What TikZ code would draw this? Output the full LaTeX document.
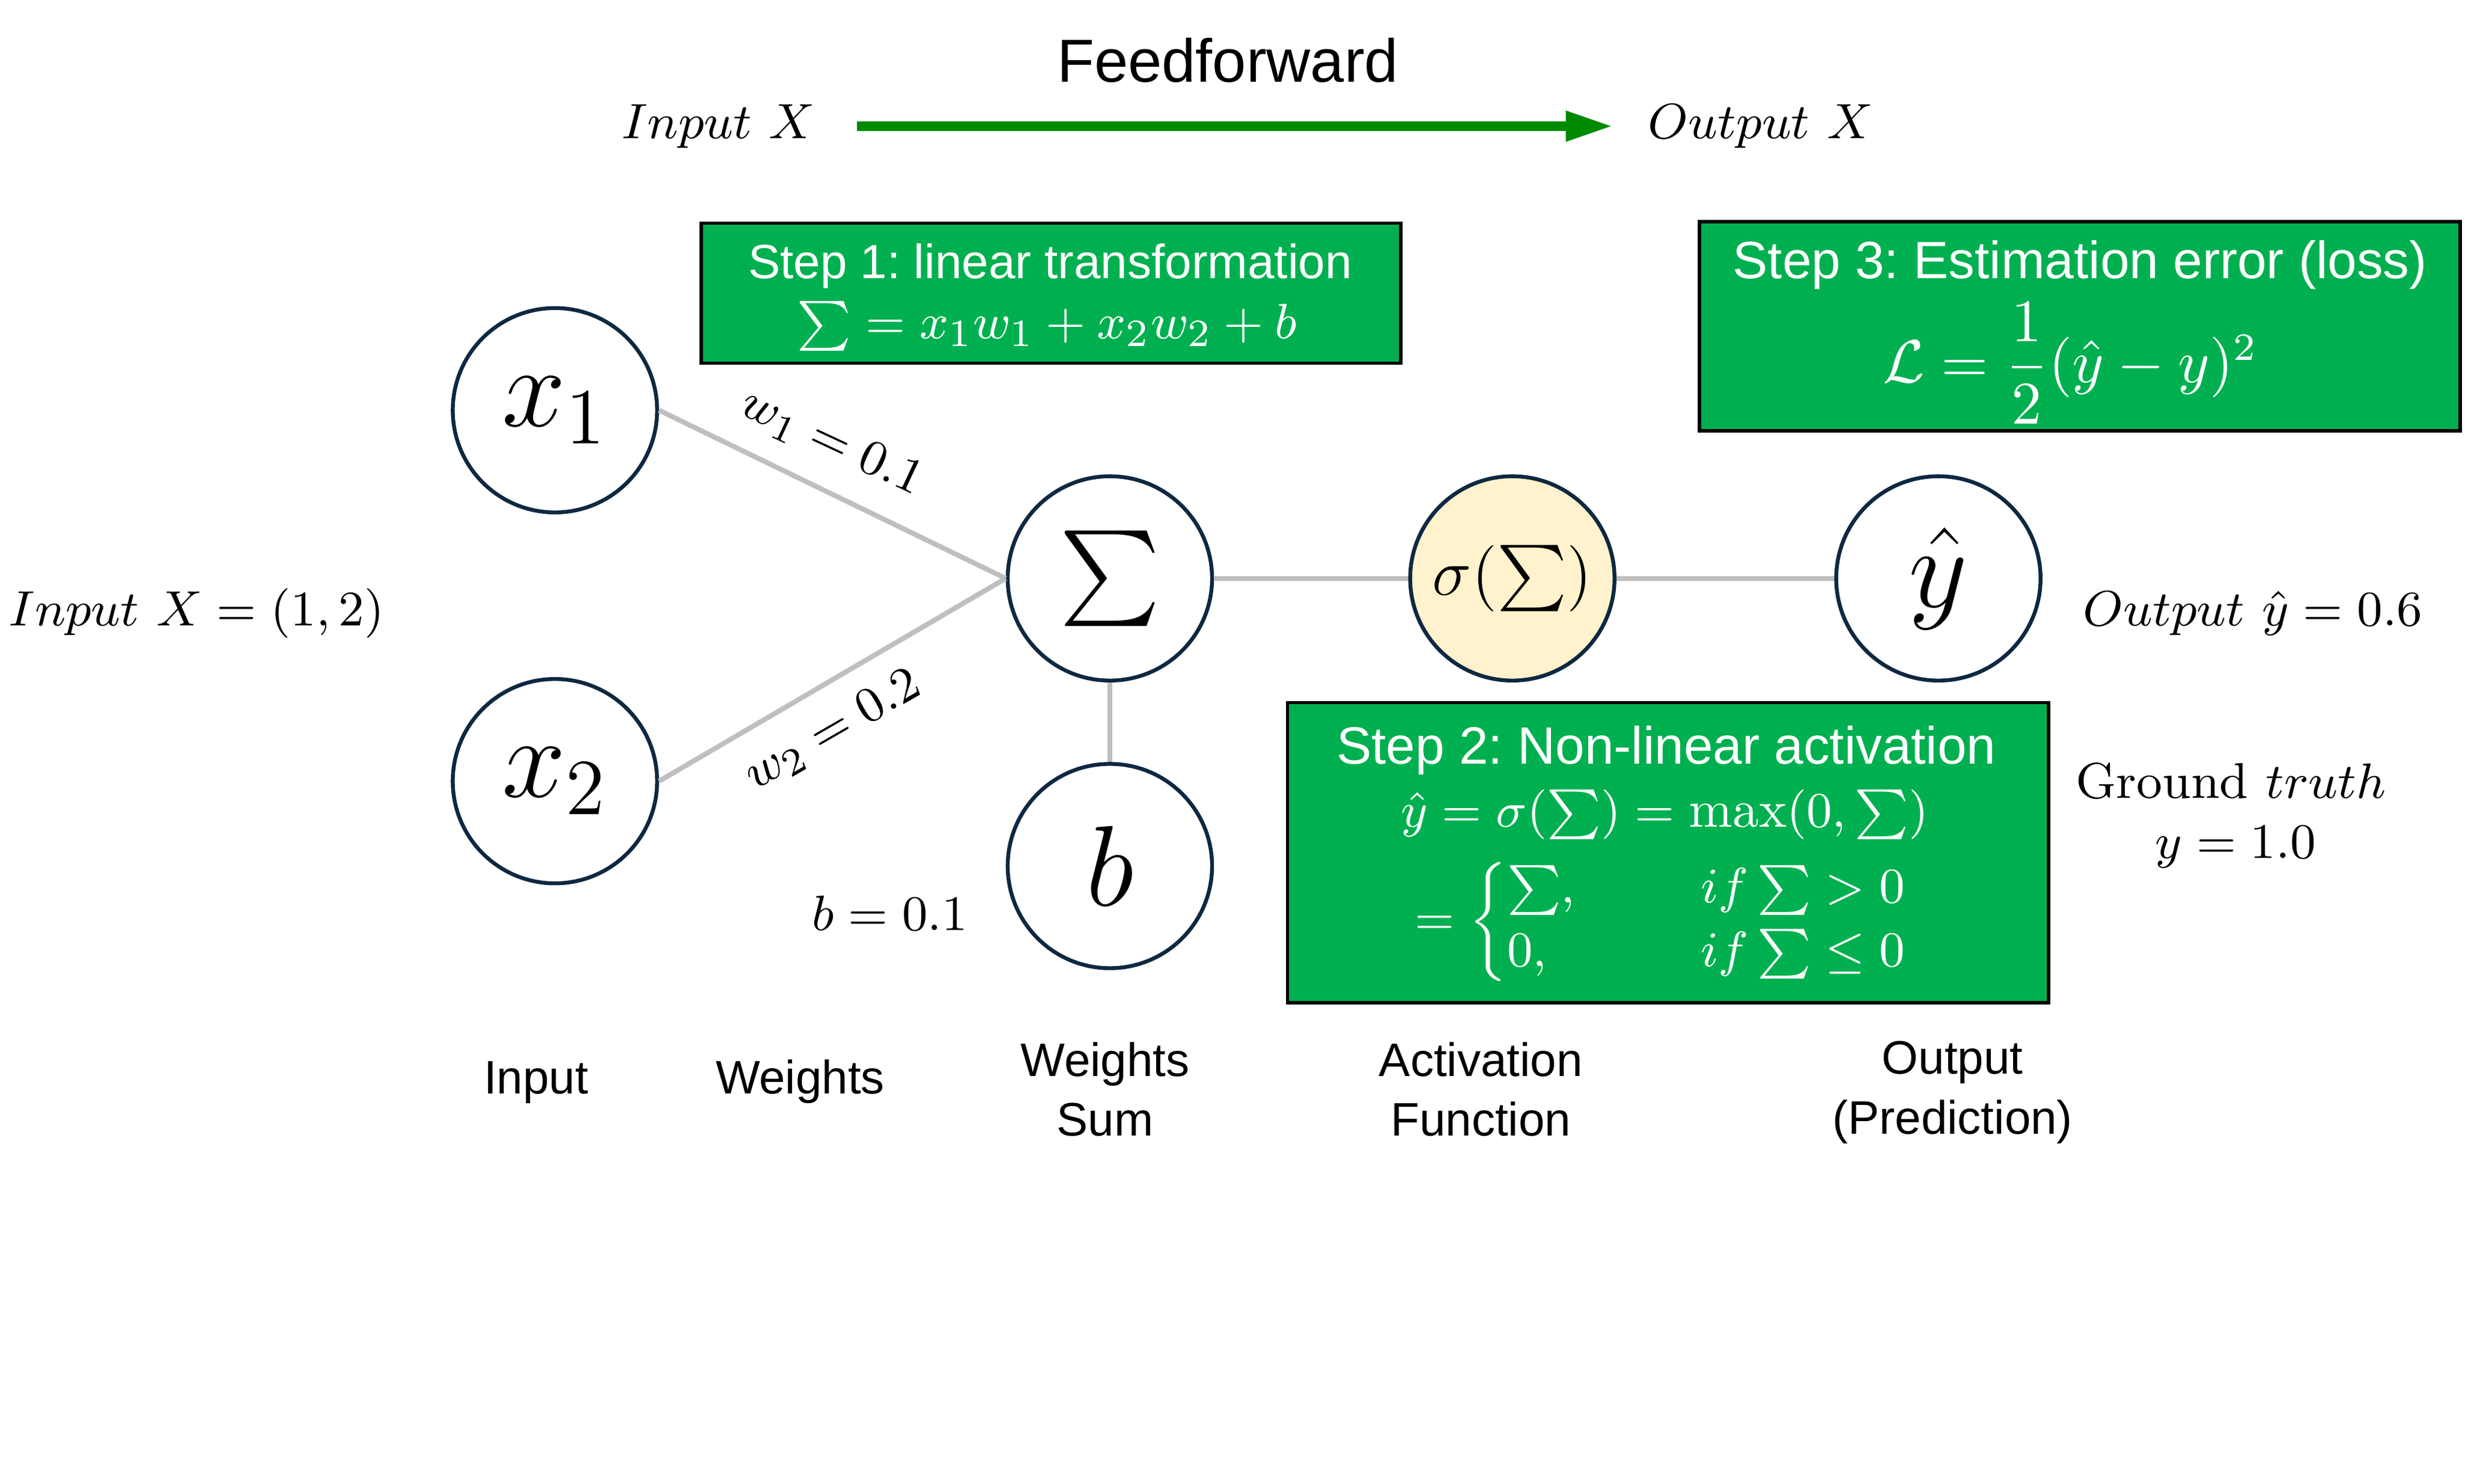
\documentclass[tikz,border=0pt]{standalone}
\usepackage{amsmath}
\usepackage{fontspec}
\newfontfamily\sansfont{Liberation Sans}
\usepackage{tikz}
\usetikzlibrary{arrows.meta}

\definecolor{stepgreen}{HTML}{00B050}
\definecolor{arrowgreen}{HTML}{008A00}
\definecolor{actyellow}{HTML}{FFF2CC}
\definecolor{ringline}{HTML}{0E2841}
\definecolor{edgegray}{HTML}{BFBFBF}

\begin{document}
\frenchspacing
\begin{tikzpicture}[
  neuron/.style={draw=ringline,line width=0.7pt,fill=white,circle,minimum size=1.3cm,inner sep=0pt,font=\fontsize{21}{24}\selectfont},
  stepbox/.style={draw=black,line width=0.6pt,fill=stepgreen,inner sep=0pt},
  steptitle/.style={anchor=base,text=white,font=\sansfont\fontsize{9.5}{11}\selectfont},
  stepmath/.style={text=white,font=\fontsize{9.5}{11.5}\selectfont},
  mathlbl/.style={anchor=base,font=\fontsize{9.1}{11}\selectfont},
  caption/.style={align=center,font=\sansfont\fontsize{8.5}{10.8}\selectfont},
  edge/.style={draw=edgegray,line width=0.9pt}
]
\useasboundingbox (0,0) rectangle (15.68,-9.44);

\draw (7.81,-0.52) node[anchor=base,font=\sansfont\fontsize{11}{13}\selectfont] (title) {Feedforward};
\draw (4.57,-0.88) node[mathlbl] (inX) {$Input\ X$};
\draw (11.20,-0.88) node[mathlbl] (outX) {$Output\ X$};

\draw (6.685,-1.865) node[stepbox,minimum width=4.45cm,minimum height=0.89cm] (step1) {};
	\draw (6.68,-1.77) node[steptitle,font=\sansfont\fontsize{8.7}{11}\selectfont] (step1Title) {Step 1: linear transformation};
	\draw (6.66,-2.155) node[stepmath,anchor=base] (step1Eq) {$\sum = x_1w_1 + x_2w_2 + b$};
\draw (13.23,-2.075) node[stepbox,minimum width=4.84cm,minimum height=1.33cm] (step3) {};
	\draw (13.23,-1.77) node[steptitle] (step3Title) {Step 3: Estimation error (loss)};
	\draw (13.17,-2.31) node[stepmath,font=\fontsize{10.5}{12.5}\selectfont] (step3Eq) {$\mathcal{L} = \dfrac{1}{2}(\hat{y} - y)^2$};
\draw (10.61,-5.425) node[stepbox,minimum width=4.84cm,minimum height=1.91cm] (step2) {};
	\draw (10.60,-4.86) node[steptitle] (step2Title) {Step 2: Non-linear activation};
	\draw (10.59,-5.26) node[stepmath,anchor=base] (step2Eq) {$\hat{y} = \sigma(\sum) = \max(0, \sum)$};
	\draw (10.58,-5.865) node[stepmath] (step2Cases) {$= \left\{\renewcommand{\arraystretch}{1.0}\begin{array}{@{}l@{\hspace{0.8cm}}l@{}}\sum, & if\sum > 0\\ 0, & if\sum \leq 0\end{array}\right.$};

\draw (3.53,-2.61) node[neuron] (x1) {$x_1$};
\draw (3.53,-4.97) node[neuron] (x2) {$x_2$};
\draw (7.06,-3.68) node[neuron,font=\fontsize{17}{20}\selectfont] (sum) {$\sum$};
\draw (7.06,-5.51) node[neuron] (b) {$b$};
\draw (9.62,-3.68) node[neuron,fill=actyellow,font=\fontsize{13}{15}\selectfont] (act) {$\sigma(\sum)$};
\draw (12.33,-3.68) node[neuron] (yhat) {$\hat{y}$};

\draw[edge] (x1.east) -- (sum.west);
\draw[edge] (x2.east) -- (sum.west);
\draw[edge] (sum.east) -- (act.west);
\draw[edge] (act.east) -- (yhat.west);
\draw[edge] (sum.south) -- (b.north);
\draw[arrowgreen,line width=1.7pt,-{Triangle[length=0.3cm,width=0.18cm]},shorten <=0.14cm,shorten >=0.10cm] (inX.east) -- (outX.west);

\draw (5.29,-2.82) node[rotate=-25,font=\fontsize{9.5}{11.5}\selectfont] (w1) {$w_1 = 0.1$};
\draw (5.30,-4.65) node[rotate=30,font=\fontsize{9.5}{11.5}\selectfont] (w2) {$w_2 = 0.2$};
\draw (5.66,-5.92) node[mathlbl,font=\fontsize{9.5}{11.5}\selectfont] (bVal) {$b = 0.1$};
\draw (1.25,-3.98) node[mathlbl] (inVal) {$Input\ X = (1, 2)$};
\draw (14.33,-3.98) node[mathlbl] (outVal) {$Output\ \hat{y} = 0.6$};
\draw (14.19,-5.08) node[mathlbl] (truth) {$\mathrm{Ground}\ truth$};
\draw (14.22,-5.46) node[mathlbl] (truthVal) {$y = 1.0$};

\draw (3.41,-6.96) node[caption,anchor=base] (capIn) {Input};
\draw (5.09,-6.96) node[caption,anchor=base] (capW) {Weights};
\draw (7.03,-6.93) node[caption] (capSum) {Weights\\Sum};
\draw (9.42,-6.93) node[caption] (capAct) {Activation\\Function};
\draw (12.42,-6.95) node[caption] (capOut) {Output\\(Prediction)};
\end{tikzpicture}
\end{document}
